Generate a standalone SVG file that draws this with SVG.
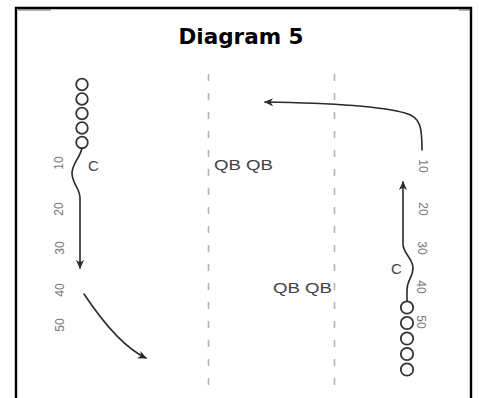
<svg xmlns="http://www.w3.org/2000/svg" width="479" height="398" viewBox="0 0 479 398">
  <style>
    .frame { fill: none; stroke: #000; stroke-width: 2.4; }
    .title { font-family: "DejaVu Sans", Verdana, sans-serif; font-weight: bold; font-size: 21.5px; fill: #000; }
    .yard { stroke: #b4b4b4; stroke-width: 1.6; stroke-dasharray: 7 12; fill: none; }
    .num { font-family: "Liberation Sans", Arial, sans-serif; font-size: 12px; fill: #777; text-anchor: middle; dominant-baseline: central; }
    .lbl { font-family: "Liberation Sans", Arial, sans-serif; font-size: 15px; fill: #444; }
    .player { fill: none; stroke: #333; stroke-width: 1.8; }
    .route { fill: none; stroke: #2a2a2a; stroke-width: 1.6; stroke-linecap: round; }
  </style>
  <defs>
    <marker id="head" viewBox="0 0 10 10" refX="9" refY="5" markerWidth="9" markerHeight="9" markerUnits="userSpaceOnUse" orient="auto">
      <path d="M0,0.5 L10,5 L0,9.5 L3,5 z" fill="#2a2a2a"/>
    </marker>
  </defs>

  <rect width="479" height="398" fill="#fff"/>

  <!-- outer frame, open at the bottom -->
  <g id="frame">
    <path class="frame" d="M16,398 V8 H471 V398"/>
    <line x1="18" y1="10" x2="51" y2="10" stroke="#666" stroke-width="1"/>
    <line x1="459" y1="10" x2="470" y2="10" stroke="#666" stroke-width="1"/>
  </g>

  <text id="title" class="title" x="241" y="44" text-anchor="middle">Diagram 5</text>

  <!-- hash lines -->
  <g id="hashes">
    <line class="yard" x1="208.5" y1="74" x2="208.5" y2="388"/>
    <line class="yard" x1="334.5" y1="74" x2="334.5" y2="388"/>
  </g>

  <!-- left sideline yard numbers -->
  <g id="left-numbers">
    <text class="num" transform="translate(59 163) rotate(-90)">10</text>
    <text class="num" transform="translate(59 209) rotate(-90)">20</text>
    <text class="num" transform="translate(60 248) rotate(-90)">30</text>
    <text class="num" transform="translate(60 290) rotate(-90)">40</text>
    <text class="num" transform="translate(60 325) rotate(-90)">50</text>
  </g>

  <!-- right sideline yard numbers -->
  <g id="right-numbers">
    <text class="num" transform="translate(423 166) rotate(90)">10</text>
    <text class="num" transform="translate(423 209) rotate(90)">20</text>
    <text class="num" transform="translate(422 248) rotate(90)">30</text>
    <text class="num" transform="translate(421 287) rotate(90)">40</text>
    <text class="num" transform="translate(421 322) rotate(90)">50</text>
  </g>

  <!-- left group of players -->
  <g id="left-line">
    <circle class="player" cx="82" cy="84.5" r="5.8"/>
    <circle class="player" cx="82" cy="99" r="5.8"/>
    <circle class="player" cx="82" cy="113.5" r="5.8"/>
    <circle class="player" cx="82" cy="128" r="5.8"/>
    <circle class="player" cx="82" cy="142.5" r="5.8"/>
  </g>
  <text id="left-c" class="lbl" x="88" y="171">C</text>

  <!-- right group of players -->
  <g id="right-line">
    <circle class="player" cx="407" cy="307.5" r="6.2"/>
    <circle class="player" cx="407" cy="323" r="6.2"/>
    <circle class="player" cx="407" cy="338.5" r="6.2"/>
    <circle class="player" cx="407" cy="354" r="6.2"/>
    <circle class="player" cx="407" cy="369.5" r="6.2"/>
  </g>
  <text id="right-c" class="lbl" x="391" y="274">C</text>

  <!-- quarterbacks -->
  <text id="qb-top" class="lbl" x="214" y="170" textLength="59" lengthAdjust="spacingAndGlyphs">QB QB</text>
  <text id="qb-bottom" class="lbl" x="273" y="293" textLength="59" lengthAdjust="spacingAndGlyphs">QB QB</text>

  <!-- routes -->
  <g id="connectors">
    <path class="route" d="M82,148 C80,158 72,164 72,173 C72,184 80,188 80,198 L80,268" marker-end="url(#head)"/>
    <path class="route" d="M84,294 Q118,345 146,358" marker-end="url(#head)"/>
    <path class="route" d="M407,301 L407,290 C407,280 413,277 413,268 C413,258 403,254 403,244 L403,182" marker-end="url(#head)"/>
    <path class="route" d="M422,150 C422,128 421,117 405,113 C380,106 330,103 265,102" marker-end="url(#head)"/>
  </g>
</svg>
